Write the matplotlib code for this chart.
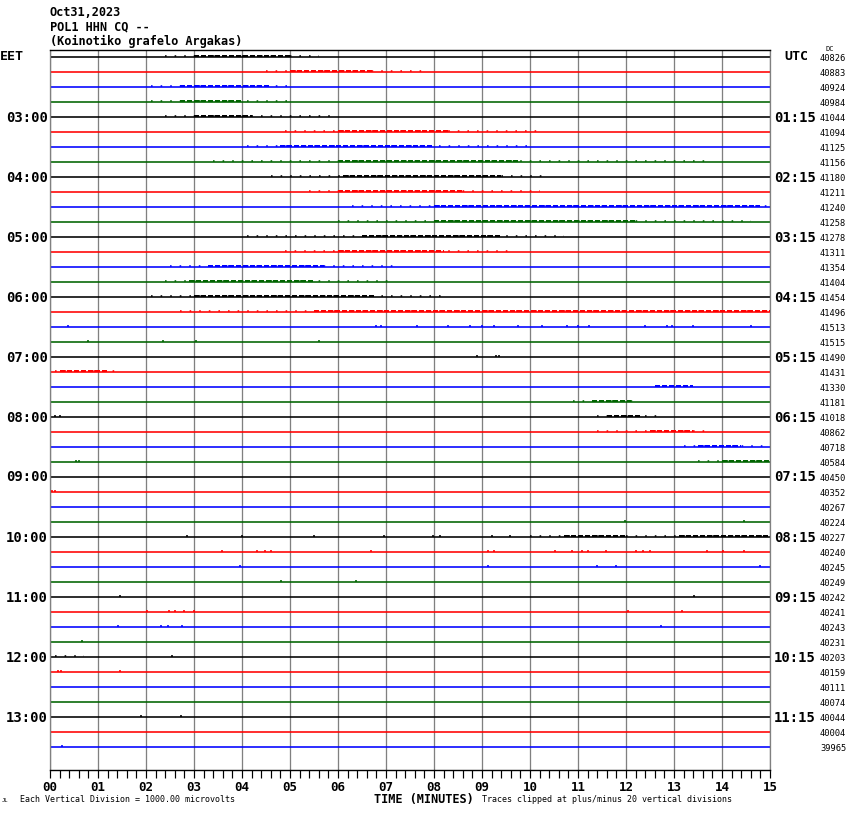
import matplotlib
matplotlib.use("Agg")
import matplotlib.pyplot as plt
from matplotlib.ticker import MultipleLocator

# ---------------- data ----------------
title_lines = ["Oct31,2023", "POL1 HHN CQ --", "(Koinotiko grafelo Argakas)"]
trace_colors = ["black", "#ff0000", "#0000ff", "#006400"]
right_values = [40826, 40883, 40924, 40984, 41044, 41094, 41125, 41156, 41180, 41211,
                41240, 41258, 41278, 41311, 41354, 41404, 41454, 41496, 41513, 41515,
                41490, 41431, 41330, 41181, 41018, 40862, 40718, 40584, 40450, 40352,
                40267, 40224, 40227, 40240, 40245, 40249, 40242, 40241, 40243, 40231,
                40203, 40159, 40111, 40074, 40044, 40004, 39965]
eet_labels = ["03:00", "04:00", "05:00", "06:00", "07:00", "08:00",
              "09:00", "10:00", "11:00", "12:00", "13:00"]
utc_labels = ["01:15", "02:15", "03:15", "04:15", "05:15", "06:15",
              "07:15", "08:15", "09:15", "10:15", "11:15"]
x_tick_labels = ["00", "01", "02", "03", "04", "05", "06", "07",
                 "08", "09", "10", "11", "12", "13", "14", "15"]

# sparse activity windows: (trace, start minute, end minute)
sparse_bursts = [
    (0, 2.4, 5.6), (1, 4.5, 7.9), (2, 2.1, 5.1), (3, 2.1, 5.0), (4, 2.4, 5.9),
    (5, 4.9, 10.3), (6, 4.1, 10.1), (7, 3.4, 13.7), (8, 4.6, 10.4), (9, 5.4, 10.2),
    (10, 6.3, 15.0), (11, 6.0, 14.6), (12, 4.1, 10.7), (13, 4.9, 9.6), (14, 2.5, 7.2),
    (15, 2.4, 7.1), (16, 2.1, 8.3), (17, 2.7, 15.0), (21, 0.1, 1.4), (23, 10.9, 12.2),
    (24, 11.4, 12.7), (25, 11.4, 13.7), (26, 13.2, 15.0), (27, 13.5, 15.0),
    (32, 10.0, 15.0), (40, 0.1, 0.7),
]
# dense activity windows: (trace, start minute, end minute)
dense_bursts = [
    (0, 3.0, 5.0), (1, 5.0, 6.7), (2, 2.7, 4.6), (3, 2.7, 4.0), (4, 3.0, 4.2),
    (5, 6.0, 8.3), (6, 4.8, 8.0), (7, 6.0, 9.8), (8, 6.1, 9.4), (9, 6.0, 8.6),
    (10, 8.0, 14.8), (11, 8.0, 12.2), (12, 6.5, 9.4), (13, 6.0, 8.2), (14, 3.3, 5.7),
    (15, 2.9, 5.5), (16, 3.0, 6.8), (17, 5.5, 15.0), (21, 0.2, 1.2), (22, 12.6, 13.4),
    (23, 11.3, 12.1), (24, 11.6, 12.3), (25, 12.5, 13.4), (26, 13.5, 14.4),
    (27, 14.0, 15.0), (32, 10.7, 12.0), (32, 13.1, 15.0),
]
# isolated spikes: (trace, minute)
spikes = [
    (18, 0.38), (18, 6.8), (18, 6.9), (18, 7.65), (18, 8.3), (18, 8.75), (18, 9.0),
    (18, 9.25), (18, 9.75), (18, 10.25), (18, 10.77), (18, 11.0), (18, 11.23),
    (18, 12.4), (18, 12.85), (18, 12.95), (18, 13.4), (18, 14.6),
    (19, 0.8), (19, 2.35), (19, 3.05), (19, 5.6),
    (20, 8.9), (20, 9.3), (20, 9.35),
    (24, 0.1), (24, 0.2), (27, 0.55), (27, 0.6),
    (29, 0.05), (29, 0.1), (31, 11.98), (31, 14.46),
    (32, 2.85), (32, 4.0), (32, 5.5), (32, 6.96), (32, 7.98), (32, 8.12), (32, 9.2),
    (32, 9.58),
    (33, 3.58), (33, 4.31), (33, 4.48), (33, 4.6), (33, 6.69), (33, 9.13), (33, 9.25),
    (33, 10.52), (33, 10.88), (33, 11.08), (33, 11.2), (33, 11.58), (33, 12.2),
    (33, 12.35), (33, 12.5), (33, 13.69), (33, 14.02), (33, 14.46),
    (34, 3.96), (34, 9.13), (34, 11.4), (34, 11.79), (34, 14.79),
    (35, 4.81), (35, 6.38), (36, 1.46), (36, 13.42),
    (37, 2.02), (37, 2.48), (37, 2.6), (37, 2.79), (37, 3.0), (37, 12.04), (37, 13.17),
    (38, 1.42), (38, 2.31), (38, 2.46), (38, 2.75), (38, 12.73),
    (39, 0.67), (40, 2.54), (41, 0.17), (41, 0.23), (41, 1.46),
    (44, 1.9), (44, 2.73), (46, 0.25),
]

# ---------------- figure ----------------
W, H = 850, 814
fig = plt.figure(figsize=(W / 100, H / 100), dpi=100)
fig.patch.set_facecolor("white")

x0, x1, ytop, ybot = 50, 770, 50, 770
ax = fig.add_axes([x0 / W, 1 - ybot / H, (x1 - x0) / W, (ybot - ytop) / H])
n = len(right_values)
px_per_trace = 15.0
first_trace_px = 57.0
ax.set_xlim(0, 15)
ax.set_ylim((ybot - first_trace_px) / px_per_trace, (ytop - first_trace_px) / px_per_trace)

mono = "DejaVu Sans Mono"
px = 0.72  # points per pixel

for m in range(0, 16):
    ax.axvline(m, color="#808080", lw=1.3 * px, zorder=1)

for i in range(n):
    ax.hlines(i, 0, 15, color=trace_colors[i % 4], lw=1.6 * px, zorder=2)

off = 0.8 / px_per_trace
for t, s, e in sparse_bursts:
    ax.hlines(t - off, s, e, color=trace_colors[t % 4], lw=1.6 * px,
              linestyles=(0, (1.0, 5.0)), zorder=3)
for t, s, e in dense_bursts:
    ax.hlines(t - off, s, e, color=trace_colors[t % 4], lw=2.0 * px,
              linestyles=(0, (2.5, 1.0)), zorder=3)
for t, m in spikes:
    ax.vlines(m, t - 2.5 / px_per_trace, t + 0.3 / px_per_trace,
              color=trace_colors[t % 4], lw=1.6 * px, zorder=3)

for side in ["left", "right"]:
    ax.spines[side].set_color("#808080")
    ax.spines[side].set_linewidth(1.3 * px)
ax.spines["top"].set_color("black")
ax.spines["bottom"].set_color("black")
ax.spines["top"].set_linewidth(1.4 * px)
ax.spines["bottom"].set_linewidth(1.4 * px)

ax.set_yticks([])
ax.xaxis.set_major_locator(MultipleLocator(1))
ax.xaxis.set_minor_locator(MultipleLocator(0.2))
ax.set_xticks(range(16))
ax.set_xticklabels(x_tick_labels, fontfamily=mono, fontweight="bold", fontsize=9)
ax.tick_params(axis="x", which="both", direction="out", length=8 * px,
               width=1.2 * px, color="black", pad=2)


def P(x, y):
    return x / W, 1 - y / H


# title
for k, line in enumerate(title_lines):
    fig.text(*P(50, 12 + 14.5 * k), line, fontfamily=mono, fontweight="bold",
             fontsize=8.6, va="center", ha="left")

# left / right time labels
fig.text(*P(0, 57), "EET", fontfamily=mono, fontweight="bold", fontsize=9.5,
         va="center", ha="left")
fig.text(*P(784, 57), "UTC", fontfamily=mono, fontweight="bold", fontsize=9.5,
         va="center", ha="left")
for k, (le, ru) in enumerate(zip(eet_labels, utc_labels)):
    tr = 4 * (k + 1)
    y = first_trace_px + tr * px_per_trace + 0.5
    fig.text(*P(48, y), le, fontfamily=mono, fontweight="bold", fontsize=10,
             va="center", ha="right")
    fig.text(*P(774, y), ru, fontfamily=mono, fontweight="bold", fontsize=10,
             va="center", ha="left")

for i, v in enumerate(right_values):
    y = first_trace_px + i * px_per_trace + 1.5
    fig.text(*P(820, y), str(v), fontfamily=mono, fontsize=6.3,
             va="center", ha="left")
fig.text(*P(826, 49), "DC", fontfamily=mono, fontsize=5, va="center", ha="left")

# bottom texts
fig.text(*P(424, 799), "TIME (MINUTES)", fontfamily=mono, fontweight="bold",
         fontsize=8.6, va="center", ha="center")
fig.text(*P(20, 800), "Each Vertical Division = 1000.00 microvolts",
         fontfamily=mono, fontsize=6.0, va="center", ha="left")
fig.text(*P(482, 800), "Traces clipped at plus/minus 20 vertical divisions",
         fontfamily=mono, fontsize=6.0, va="center", ha="left")
fig.text(*P(2, 801), "JL", fontfamily=mono, fontsize=4, va="center", ha="left")

fig.savefig("out.png", dpi=100, facecolor="white")
